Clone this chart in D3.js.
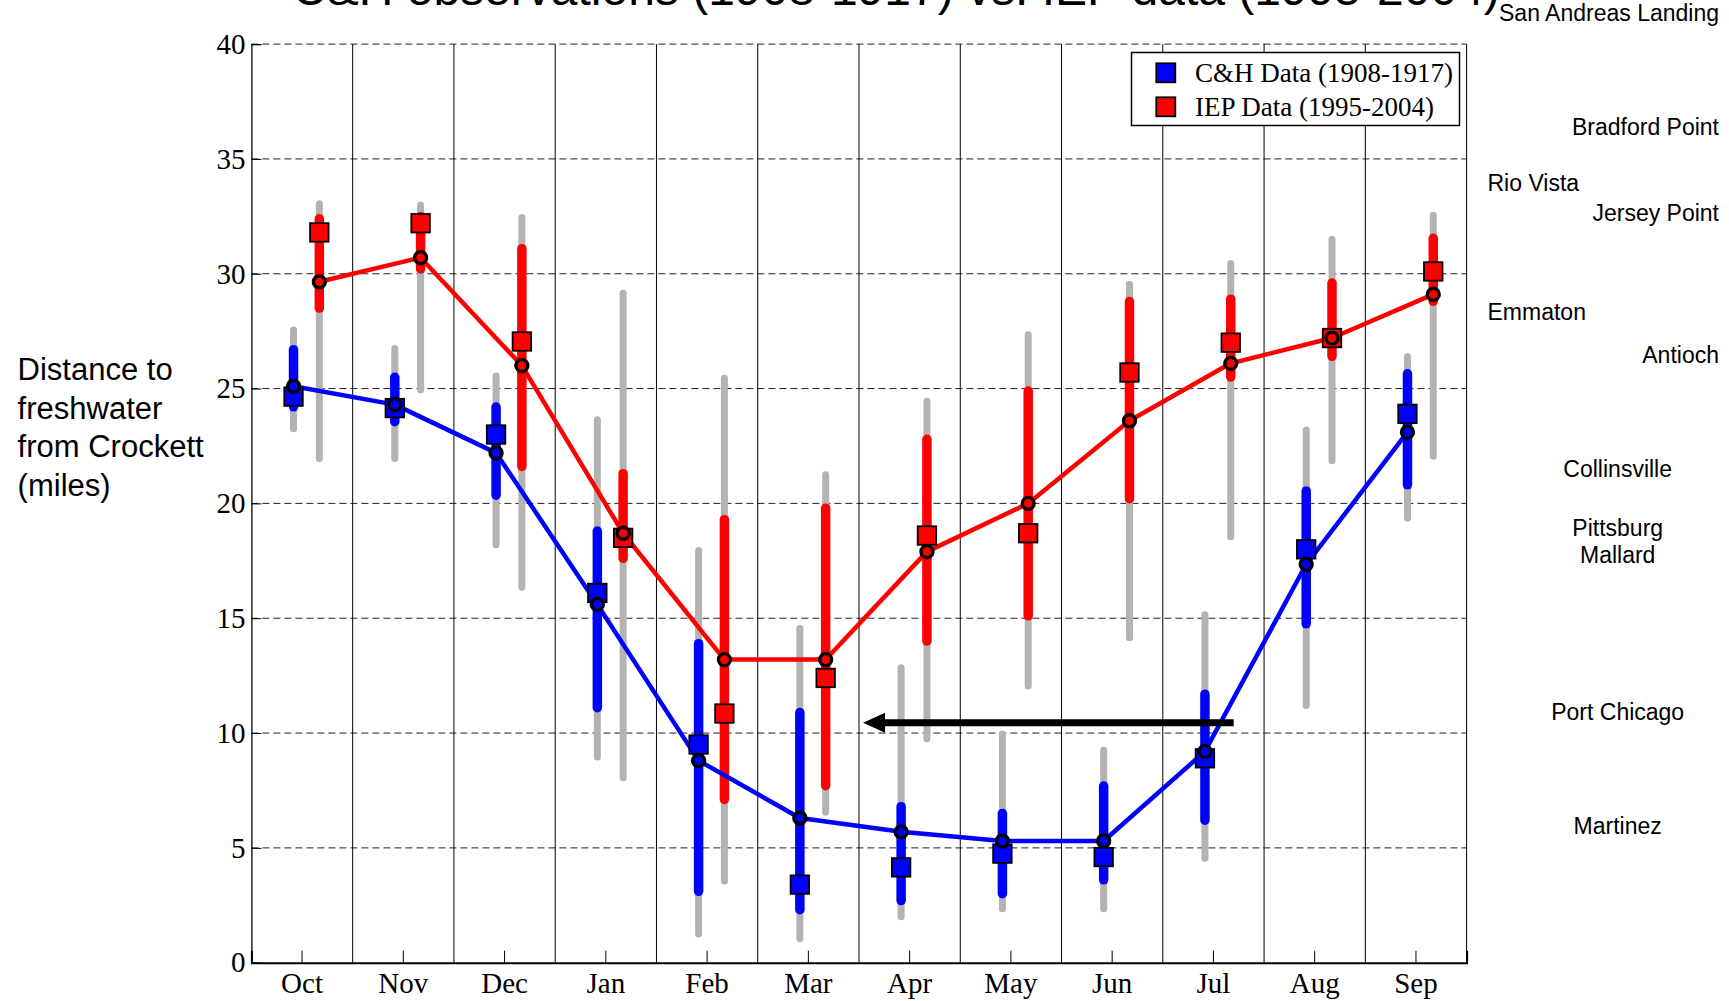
<!DOCTYPE html>
<html>
<head>
<meta charset="utf-8">
<script src="https://cdn.jsdelivr.net/npm/d3@7"></script>
<style>
  body { margin: 0; background: #fff; }
  svg { display: block; }
</style>
</head>
<body>
<svg id="chart" width="1729" height="1001"></svg>
<script>
// Months (water year order)
const months = ["Oct", "Nov", "Dec", "Jan", "Feb", "Mar", "Apr", "May", "Jun", "Jul", "Aug", "Sep"];

// C&H data (1908-1917), miles from Crockett
const chMean    = [25.1, 24.3, 22.2, 15.6, 8.8, 6.3, 5.7, 5.3, 5.3, 9.2, 17.35, 23.1];
const chSquare  = [24.65, 24.15, 23.0, 16.1, 9.5, 3.4, 4.15, 4.75, 4.6, 8.9, 18.0, 23.9];
const chBarLo   = [24.0, 23.35, 20.15, 10.9, 2.9, 2.1, 2.5, 2.8, 3.4, 6.0, 14.55, 20.6];
const chBarHi   = [26.9, 25.7, 24.4, 19.0, 14.1, 11.1, 7.0, 6.7, 7.9, 11.9, 20.75, 25.85];
const chRangeLo = [23.1, 21.8, 18.05, 8.8, 1.1, 0.9, 1.85, 2.2, 2.2, 4.4, 11.05, 19.2];
const chRangeHi = [27.7, 26.9, 25.7, 23.8, 18.1, 14.7, 13.0, 10.1, 9.4, 15.3, 23.35, 26.55];

// IEP data (1995-2004)
const ieMean    = [29.65, 30.7, 26.0, 18.7, 13.2, 13.2, 17.9, 20.0, 23.6, 26.1, 27.2, 29.1];
const ieSquare  = [31.8, 32.2, 27.05, 18.5, 10.85, 12.4, 18.6, 18.7, 25.7, 27.0, 27.2, 30.1];
const ieBarLo   = [28.3, 30.0, 21.4, 17.4, 6.9, 7.5, 13.8, 14.9, 20.0, 25.3, 26.2, 28.6];
const ieBarHi   = [32.6, 32.7, 31.3, 21.5, 19.5, 20.0, 23.0, 25.1, 29.0, 29.1, 29.8, 31.75];
const ieRangeLo = [21.8, 24.8, 16.2, 7.9, 3.4, 6.4, 9.6, 11.9, 14.0, 18.4, 21.7, 21.9];
const ieRangeHi = [33.2, 33.15, 32.6, 29.3, 25.6, 21.4, 24.6, 27.5, 29.7, 30.6, 31.65, 32.7];

// Stations along the estuary and their distance (miles)
const stationNames = ["San Andreas Landing", "Bradford Point", "Rio Vista", "Jersey Point", "Emmaton",
  "Antioch", "Collinsville", "Pittsburg", "Mallard", "Port Chicago", "Martinez"];
const stationMiles = [41.35, 36.41, 33.96, 32.66, 28.34, 26.47, 21.52, 18.92, 17.77, 10.91, 5.95];

const yTicks = [0, 5, 10, 15, 20, 25, 30, 35, 40];
const legendLabels = ["C&H Data (1908-1917)", "IEP Data (1995-2004)"];
const yLabelLines = ["Distance to", "freshwater", "from Crockett", "(miles)"];
const titleText = "C&H observations (1908-1917) vs. IEP data (1995-2004)";

// Arrow (month-index units and miles)
const arrowFrom = 9.7, arrowTo = 6.04, arrowMiles = 10.45;

const SERIF = "'Liberation Serif', 'Times New Roman', serif";
const SANS = "'Liberation Sans', Arial, sans-serif";

const svg = d3.select("#chart");
const plotLeft = 251.4, plotRight = 1466.6, plotTop = 44.1, plotBottom = 962.7;

const x = d3.scaleBand().domain(months).range([plotLeft, plotRight]).padding(0);
const xLin = d3.scaleLinear().domain([0, 12]).range([plotLeft, plotRight]);
const y = d3.scaleLinear().domain([0, 40]).range([plotBottom, plotTop]);

const series = [
  { name: "ch", color: "#0000ff", offset: -8.5, mean: chMean, square: chSquare,
    barLo: chBarLo, barHi: chBarHi, rangeLo: chRangeLo, rangeHi: chRangeHi },
  { name: "iep", color: "#ff0000", offset: 17.3, mean: ieMean, square: ieSquare,
    barLo: ieBarLo, barHi: ieBarHi, rangeLo: ieRangeLo, rangeHi: ieRangeHi }
];
series.forEach(s => {
  s.rows = months.map((m, i) => ({
    month: m, mean: s.mean[i], square: s.square[i],
    barLo: s.barLo[i], barHi: s.barHi[i], rangeLo: s.rangeLo[i], rangeHi: s.rangeHi[i]
  }));
  s.px = d => x(d.month) + x.bandwidth() / 2 + s.offset;
});

// Title (cut off at the top edge, as in the original)
svg.append("text")
  .attr("x", 292).attr("y", 5)
  .style("font-family", SANS).style("font-size", "48px").style("fill", "#000")
  .text(titleText);

// Horizontal dashed grid
svg.append("g").selectAll("line")
  .data(yTicks.filter(t => t > 0))
  .enter().append("line")
  .attr("x1", plotLeft).attr("x2", plotRight)
  .attr("y1", d => y(d)).attr("y2", d => y(d))
  .attr("stroke", "#222").attr("stroke-width", 1)
  .attr("stroke-dasharray", "7,4");

// Month separators
svg.append("g").selectAll("line")
  .data(months.slice(1).concat(["end"]))
  .enter().append("line")
  .attr("x1", d => d === "end" ? plotRight : x(d))
  .attr("x2", d => d === "end" ? plotRight : x(d))
  .attr("y1", y(40)).attr("y2", y(0))
  .attr("stroke", "#000").attr("stroke-width", 1);

// Vertical segment helper, pulls ends in by the cap radius
function drawBars(g, s, lo, hi, color, w) {
  g.selectAll(null)
    .data(s.rows)
    .enter().append("line")
    .attr("x1", s.px).attr("x2", s.px)
    .attr("y1", d => y(d[hi]) + w / 2)
    .attr("y2", d => y(d[lo]) - w / 2)
    .attr("stroke", color).attr("stroke-width", w)
    .attr("stroke-linecap", "round");
}

const gRange = svg.append("g");
series.forEach(s => drawBars(gRange, s, "rangeLo", "rangeHi", "#b3b3b3", 7));
const gBar = svg.append("g");
series.forEach(s => drawBars(gBar, s, "barLo", "barHi", s.color, 9.5));

// Mean lines
const line = d3.line();
series.forEach(s => {
  svg.append("path")
    .datum(s.rows)
    .attr("d", line.x(s.px).y(d => y(d.mean)))
    .attr("fill", "none")
    .attr("stroke", s.color).attr("stroke-width", 4.5)
    .attr("stroke-linejoin", "round");
});

// Square markers
const sq = 18.5;
series.forEach(s => {
  svg.append("g").selectAll("rect")
    .data(s.rows)
    .enter().append("rect")
    .attr("x", d => s.px(d) - sq / 2)
    .attr("y", d => y(d.square) - sq / 2)
    .attr("width", sq).attr("height", sq)
    .attr("fill", s.color).attr("stroke", "#000").attr("stroke-width", 1.8);
});

// Circle markers on the lines
series.forEach(s => {
  svg.append("g").selectAll("circle")
    .data(s.rows)
    .enter().append("circle")
    .attr("cx", s.px).attr("cy", d => y(d.mean))
    .attr("r", 6)
    .attr("fill", s.color).attr("stroke", "#000").attr("stroke-width", 3.3);
});

// Arrow
const ay = y(arrowMiles), tipX = xLin(arrowTo), headLen = 22, headHalf = 10;
svg.append("line")
  .attr("x1", xLin(arrowFrom)).attr("x2", tipX + headLen - 2)
  .attr("y1", ay).attr("y2", ay)
  .attr("stroke", "#000").attr("stroke-width", 7);
svg.append("path")
  .attr("d", `M${tipX},${ay} L${tipX + headLen},${ay - headHalf} L${tipX + headLen},${ay + headHalf} Z`)
  .attr("fill", "#000");

// Axes
const yAxis = d3.axisLeft(y).tickValues(yTicks).tickSize(-10).tickPadding(6).tickFormat(d3.format("d"));
svg.append("g")
  .attr("transform", `translate(${plotLeft},0)`)
  .call(yAxis)
  .call(g => g.select(".domain").attr("stroke", "#000").attr("stroke-width", 1.3))
  .call(g => g.selectAll(".tick line").attr("stroke", "#000"))
  .call(g => g.selectAll("text").style("font-family", SERIF).style("font-size", "29px").style("fill", "#000"));

const xAxis = d3.axisBottom(x).tickSize(-12).tickPadding(10);
svg.append("g")
  .attr("transform", `translate(0,${plotBottom})`)
  .call(xAxis)
  .call(g => g.select(".domain").attr("stroke", "#000").attr("stroke-width", 2))
  .call(g => g.selectAll(".tick line").attr("stroke", "#000"))
  .call(g => g.selectAll("text").style("font-family", SERIF).style("font-size", "29px").style("fill", "#000"));

// Legend
const legend = svg.append("g");
legend.append("rect")
  .attr("x", 1131.5).attr("y", 52.5).attr("width", 328).attr("height", 73)
  .attr("fill", "#fff").attr("stroke", "#000").attr("stroke-width", 1.5);
legendLabels.forEach((lab, i) => {
  const cy = 72.8 + i * 34;
  legend.append("rect")
    .attr("x", 1165.8 - 9.5).attr("y", cy - 9.5).attr("width", 19).attr("height", 19)
    .attr("fill", series[i].color).attr("stroke", "#000").attr("stroke-width", 1.8);
  legend.append("text")
    .attr("x", 1195).attr("y", cy).attr("dy", "0.35em")
    .style("font-family", SERIF).style("font-size", "27px").style("fill", "#000")
    .text(lab);
});

// Y axis title
svg.append("g").selectAll("text")
  .data(yLabelLines)
  .enter().append("text")
  .attr("x", 17.6)
  .attr("y", (d, i) => 369.4 + i * 38.6)
  .attr("dy", "0.35em")
  .style("font-family", SANS).style("font-size", "31px").style("fill", "#000")
  .text(d => d);

// Station names on the right, placed at their distance
const stationAnchor = {
  "San Andreas Landing": "end", "Bradford Point": "end", "Jersey Point": "end", "Antioch": "end",
  "Rio Vista": "start", "Emmaton": "start"
};
const anchorX = { end: 1719, start: 1487.5, middle: 1617.7 };
svg.append("g").selectAll("text")
  .data(stationNames.map((n, i) => ({ name: n, miles: stationMiles[i] })))
  .enter().append("text")
  .attr("x", d => anchorX[stationAnchor[d.name] || "middle"])
  .attr("y", d => y(d.miles))
  .attr("dy", "0.35em")
  .attr("text-anchor", d => stationAnchor[d.name] || "middle")
  .style("font-family", SANS).style("font-size", "23px").style("fill", "#000")
  .text(d => d.name);
</script>
</body>
</html>
